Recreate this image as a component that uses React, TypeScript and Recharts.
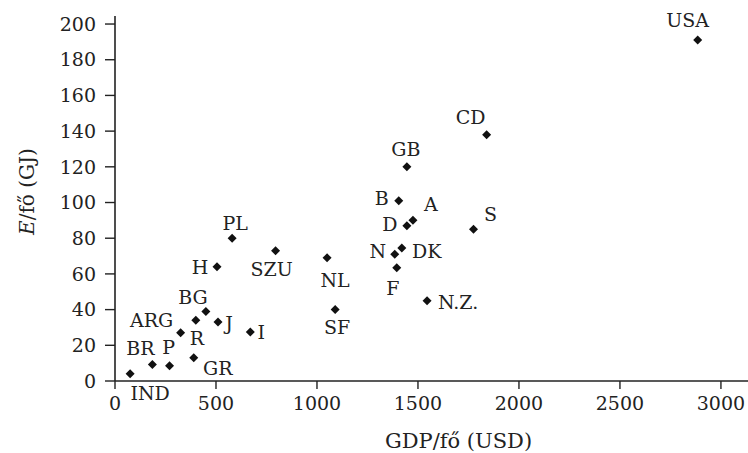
import React from "react";
import { ScatterChart, Scatter, XAxis, YAxis, Label } from "recharts";

// countries, GDP per capita (USD), energy per capita (GJ)
const countries = [
  "IND", "BR", "P", "GR", "ARG", "R", "BG", "J", "I", "H", "PL", "SZU", "NL",
  "SF", "CD", "GB", "B", "D", "A", "S", "N", "DK", "F", "N.Z.", "USA",
];
const gdp = [
  75, 185, 270, 390, 325, 400, 450, 510, 670, 505, 580, 795, 1050,
  1090, 1840, 1445, 1405, 1445, 1475, 1775, 1385, 1420, 1395, 1545, 2885,
];
const energy = [
  4, 9.3, 8.6, 13, 27, 34, 39, 33, 27.5, 64, 80, 73, 69,
  40, 138, 120, 101, 87, 90, 85, 71, 74.5, 63.5, 45, 191,
];

const xTicks = [0, 500, 1000, 1500, 2000, 2500, 3000];
const yTicks = [0, 20, 40, 60, 80, 100, 120, 140, 160, 180, 200];

const data = countries.map((name, i) => ({ name, x: gdp[i], y: energy[i] }));

// label placement around each marker (layout only)
const labelOffset: Record<string, [number, number]> = {
  IND: [20, 19],
  BR: [-12, -16],
  P: [-1, -18],
  GR: [24, 10],
  ARG: [-29, -13],
  R: [1, 18],
  BG: [-13, -14],
  J: [11, 1],
  I: [11, 0],
  H: [-17, 0],
  PL: [3, -15],
  SZU: [-4, 18],
  NL: [8, 22],
  SF: [2, 18],
  CD: [-16, -18],
  GB: [-1, -18],
  B: [-17, -3],
  A: [18, -16],
  D: [-17, -2],
  S: [17, -15],
  N: [-17, -3],
  DK: [25, 3],
  F: [-4, 20],
  "N.Z.": [31, 1],
  USA: [-10, -20],
};

const FONT = "'DejaVu Serif', 'Liberation Serif', serif";
const INK = "#222";

function Point(props: any) {
  const { cx, cy, payload } = props;
  if (cx == null || cy == null) return null;
  const r = 4.5;
  const [dx, dy] = labelOffset[payload.name] ?? [0, -16];
  return (
    <g>
      <polygon
        points={`${cx},${cy - r} ${cx + r},${cy} ${cx},${cy + r} ${cx - r},${cy}`}
        fill="#111"
      />
      <text
        x={cx + dx}
        y={cy + dy}
        dy="0.36em"
        textAnchor="middle"
        fontFamily={FONT}
        fontSize={19}
        fill={INK}
      >
        {payload.name}
      </text>
    </g>
  );
}

function YTitle(props: any) {
  const vb = props.viewBox;
  const cy = vb.y + vb.height / 2 - 7;
  const x = 34;
  return (
    <text
      x={x}
      y={cy}
      transform={`rotate(-90, ${x}, ${cy})`}
      textAnchor="middle"
      fontFamily={FONT}
      fontSize={20}
      fill={INK}
    >
      <tspan fontStyle="italic">E</tspan>
      <tspan>/fő (GJ)</tspan>
    </text>
  );
}

export default function App() {
  return (
    <div style={{ position: "absolute", left: 0, top: 0, background: "#fff" }}>
      <ScatterChart
        width={748}
        height={453}
        margin={{ top: 16, right: 0, bottom: 0, left: 0 }}
      >
        <XAxis
          type="number"
          dataKey="x"
          domain={[0, 3134]}
          ticks={xTicks}
          height={72}
          axisLine={{ stroke: INK, strokeWidth: 1.6 }}
          tickLine={{ stroke: INK, strokeWidth: 1.4 }}
          tickSize={8}
          tickMargin={8}
          tick={{ fontFamily: FONT, fontSize: 19, fill: INK }}
        >
          <Label
            value="GDP/fő (USD)"
            position="insideBottom"
            offset={5}
            dx={27}
            style={{ fontFamily: FONT, fontSize: 21, fill: INK }}
          />
        </XAxis>
        <YAxis
          type="number"
          dataKey="y"
          domain={[0, 204.5]}
          ticks={yTicks}
          width={115}
          axisLine={{ stroke: INK, strokeWidth: 1.6 }}
          tickLine={{ stroke: INK, strokeWidth: 1.4 }}
          tickSize={10}
          tickMargin={9}
          tick={{ fontFamily: FONT, fontSize: 19, fill: INK }}
        >
          <Label content={YTitle} />
        </YAxis>
        <Scatter data={data} shape={Point} isAnimationActive={false} />
      </ScatterChart>
    </div>
  );
}
